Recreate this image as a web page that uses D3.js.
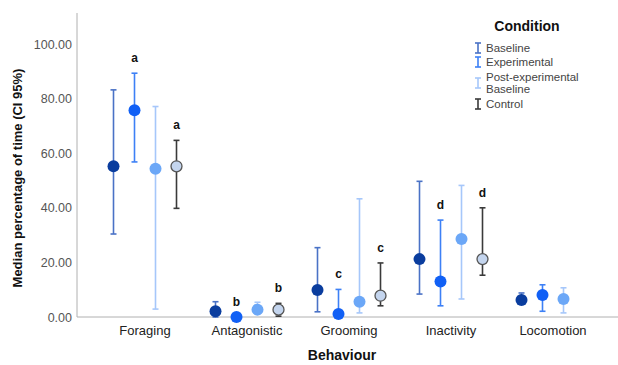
<!DOCTYPE html>
<html>
<head>
<meta charset="utf-8">
<script src="https://cdn.jsdelivr.net/npm/d3@7"></script>
<style>
  body { margin: 0; background: #fff; }
  svg { display: block; font-family: "Liberation Sans", Arial, sans-serif; }
</style>
</head>
<body>
<div id="chart"></div>
<script>
// data
var behaviours = ["Foraging", "Antagonistic", "Grooming", "Inactivity", "Locomotion"];
var conditions = ["Baseline", "Experimental", "Post-experimental Baseline", "Control"];

// medians, lower CI, upper CI per condition (null = not shown)
var baselineMed = [55.2, 2.1, 9.9, 21.2, 6.2];
var baselineLo = [30.4, 0.0, 1.9, 8.4, 5.0];
var baselineHi = [83.2, 5.6, 25.4, 49.7, 8.8];

var experimentalMed = [75.7, 0.0, 1.1, 13.0, 8.1];
var experimentalLo = [56.8, 0.0, 0.0, 4.1, 2.1];
var experimentalHi = [89.3, 0.0, 10.1, 35.5, 11.8];

var postMed = [54.3, 2.7, 5.6, 28.6, 6.6];
var postLo = [2.9, 1.0, 1.5, 6.6, 1.5];
var postHi = [77.1, 5.4, 43.3, 48.2, 10.7];

var controlMed = [55.2, 2.7, 7.8, 21.2, null];
var controlLo = [39.8, 0.3, 4.1, 15.3, null];
var controlHi = [64.7, 5.0, 19.8, 40.0, null];

// significance letters
var letterBehaviour = ["Foraging", "Foraging", "Antagonistic", "Antagonistic", "Grooming", "Grooming", "Inactivity", "Inactivity"];
var letterCondition = [1, 3, 1, 3, 1, 3, 1, 3];
var letterText = ["a", "a", "b", "b", "c", "c", "d", "d"];

var yTicks = [0, 20, 40, 60, 80, 100];

var circleFill = ["#0a3d9e", "#1160f5", "#6ba7f7", "#c4d5ee"];
var whiskerColor = ["#4a72c6", "#3d80f6", "#a6c7fa", "#3a3a3a"];

var width = 618, height = 365;
var svg = d3.select("#chart").append("svg")
    .attr("width", width)
    .attr("height", height);

var x = d3.scaleBand()
    .domain(behaviours)
    .range([94, 604]);

var offsets = d3.scalePoint()
    .domain(conditions)
    .range([-31.5, 31.5]);

var y = d3.scaleLinear()
    .domain([0, 100])
    .range([317, 44]);

// y axis
var yAxis = svg.append("g")
    .attr("transform", "translate(77,0)")
    .call(d3.axisLeft(y).tickValues(yTicks).tickSize(0).tickPadding(5).tickFormat(d3.format(".2f")));
yAxis.select(".domain").remove();
yAxis.selectAll("text")
    .attr("font-size", "12.5px")
    .attr("fill", "#555")
    .attr("font-family", "Liberation Sans, Arial, sans-serif");
svg.append("line")
    .attr("x1", 77).attr("x2", 77)
    .attr("y1", 13).attr("y2", 317)
    .attr("stroke", "#b0b0b0");

// x axis
var xAxis = svg.append("g")
    .attr("transform", "translate(0,317)")
    .call(d3.axisBottom(x).tickSize(0).tickPadding(9));
xAxis.select(".domain").remove();
xAxis.selectAll("text")
    .attr("font-size", "13px")
    .attr("fill", "#222")
    .attr("font-family", "Liberation Sans, Arial, sans-serif");
svg.append("line")
    .attr("x1", 77).attr("x2", 618)
    .attr("y1", 317).attr("y2", 317)
    .attr("stroke", "#b0b0b0");

// axis titles
svg.append("text")
    .attr("transform", "translate(22," + 178 + ") rotate(-90)")
    .attr("text-anchor", "middle")
    .attr("font-size", "13px")
    .attr("font-weight", "bold")
    .attr("fill", "#111")
    .text("Median percentage of time (CI 95%)");

svg.append("text")
    .attr("x", 342)
    .attr("y", 360)
    .attr("text-anchor", "middle")
    .attr("font-size", "14px")
    .attr("font-weight", "bold")
    .attr("fill", "#111")
    .text("Behaviour");

// build rows
var meds = [baselineMed, experimentalMed, postMed, controlMed];
var los = [baselineLo, experimentalLo, postLo, controlLo];
var his = [baselineHi, experimentalHi, postHi, controlHi];
var rows = [];
conditions.forEach(function(c, ci) {
    behaviours.forEach(function(b, bi) {
        if (meds[ci][bi] == null) return;
        rows.push({ b: b, c: c, ci: ci, med: meds[ci][bi], lo: los[ci][bi], hi: his[ci][bi] });
    });
});

function cx(d) { return x(d.b) + x.bandwidth() / 2 + offsets(d.c); }

var plot = svg.append("g");

// whiskers
var g = plot.selectAll("g.err")
    .data(rows)
    .enter()
    .append("g")
    .attr("class", "err");
g.append("line")
    .attr("x1", cx).attr("x2", cx)
    .attr("y1", function(d) { return y(d.lo); })
    .attr("y2", function(d) { return y(d.hi); })
    .attr("stroke", function(d) { return whiskerColor[d.ci]; })
    .attr("stroke-width", 1.6);
g.append("line")
    .attr("x1", function(d) { return cx(d) - 3; })
    .attr("x2", function(d) { return cx(d) + 3; })
    .attr("y1", function(d) { return y(d.hi); })
    .attr("y2", function(d) { return y(d.hi); })
    .attr("stroke", function(d) { return whiskerColor[d.ci]; })
    .attr("stroke-width", 1.6);
g.append("line")
    .attr("x1", function(d) { return cx(d) - 3; })
    .attr("x2", function(d) { return cx(d) + 3; })
    .attr("y1", function(d) { return y(d.lo); })
    .attr("y2", function(d) { return y(d.lo); })
    .attr("stroke", function(d) { return whiskerColor[d.ci]; })
    .attr("stroke-width", 1.6);

// median dots
plot.selectAll("circle.med")
    .data(rows)
    .enter()
    .append("circle")
    .attr("class", "med")
    .attr("cx", cx)
    .attr("cy", function(d) { return y(d.med); })
    .attr("r", function(d) { return d.ci == 3 ? 5.5 : 6; })
    .attr("fill", function(d) { return circleFill[d.ci]; })
    .attr("stroke", function(d) { return d.ci == 3 ? "#555" : "none"; })
    .attr("stroke-width", 1.3);

// letters above the upper CI
plot.selectAll("text.letter")
    .data(letterText)
    .enter()
    .append("text")
    .attr("class", "letter")
    .attr("x", function(d, i) { return x(letterBehaviour[i]) + x.bandwidth() / 2 + offsets(conditions[letterCondition[i]]); })
    .attr("y", function(d, i) {
        var bi = behaviours.indexOf(letterBehaviour[i]);
        return y(his[letterCondition[i]][bi]) - 11;
    })
    .attr("text-anchor", "middle")
    .attr("font-size", "12px")
    .attr("font-weight", "bold")
    .attr("fill", "#111")
    .text(function(d) { return d; });

// legend
var legend = svg.append("g");
legend.append("text")
    .attr("x", 527).attr("y", 31)
    .attr("text-anchor", "middle")
    .attr("font-size", "14px")
    .attr("font-weight", "bold")
    .attr("fill", "#111")
    .text("Condition");

var legendY = [48, 62, 77, 104];
var legendLines = [["Baseline"], ["Experimental"], ["Post-experimental", "Baseline"], ["Control"]];
conditions.forEach(function(c, i) {
    var gy = legendY[i] + (i == 2 ? 6 : 0);
    var item = legend.append("g").attr("transform", "translate(478," + gy + ")");
    item.append("line").attr("x1", 0).attr("x2", 0).attr("y1", -5).attr("y2", 5)
        .attr("stroke", whiskerColor[i]).attr("stroke-width", 1.6);
    item.append("line").attr("x1", -3).attr("x2", 3).attr("y1", -5).attr("y2", -5)
        .attr("stroke", whiskerColor[i]).attr("stroke-width", 1.6);
    item.append("line").attr("x1", -3).attr("x2", 3).attr("y1", 5).attr("y2", 5)
        .attr("stroke", whiskerColor[i]).attr("stroke-width", 1.6);
    legendLines[i].forEach(function(t, j) {
        legend.append("text")
            .attr("x", 486)
            .attr("y", legendY[i] + 4 + j * 12)
            .attr("font-size", "11.5px")
            .attr("fill", "#444")
            .text(t);
    });
});
</script>
</body>
</html>
